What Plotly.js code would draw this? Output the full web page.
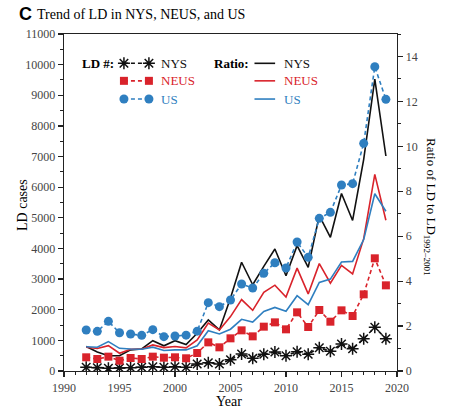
<!DOCTYPE html>
<html>
<head>
<meta charset="utf-8">
<script src="https://cdn.plot.ly/plotly-3.0.1.min.js"></script>
<style>html,body{margin:0;padding:0;background:#fff;}#chart{width:450px;height:418px;}</style>
</head>
<body>
<div id="chart"></div>
<script>
// ---- data ----
const years = [1992,1993,1994,1995,1996,1997,1998,1999,2000,2001,2002,2003,2004,2005,2006,2007,2008,2009,2010,2011,2012,2013,2014,2015,2016,2017,2018,2019];

const nysCases  = [120,108,87,98,108,120,141,120,141,125,228,272,228,370,555,413,544,620,500,631,544,761,642,881,729,1055,1425,1055];
const neusCases = [447,392,468,337,424,392,468,435,447,415,587,935,773,1066,1327,1131,1447,1588,1360,1915,1436,1991,1610,1980,1795,2502,3678,2796];
const usCases   = [1338,1295,1620,1250,1207,1164,1350,1120,1142,1170,1300,2230,2100,2317,2840,2709,3188,3535,3362,4210,3710,4983,5178,6070,6114,7430,9932,8868];

const nysRatio  = [1.09,0.85,0.68,0.68,0.94,0.98,1.35,1.12,1.35,1.18,1.68,2.27,1.83,3.25,4.84,3.84,4.66,5.43,4.24,5.58,4.61,6.92,5.95,7.90,6.70,9.42,12.99,9.57];
const neusRatio = [1.06,1.00,1.13,0.79,0.97,0.97,1.16,1.04,1.09,1.03,1.38,2.13,1.83,2.42,3.18,2.70,3.50,3.82,3.29,4.58,3.43,4.78,3.91,4.70,4.32,5.89,8.75,6.71];
const usRatio   = [1.08,1.06,1.31,1.01,0.98,0.97,1.06,0.91,0.94,0.94,1.12,1.79,1.65,1.86,2.30,2.18,2.65,2.83,2.66,3.35,2.95,3.94,4.09,4.85,4.88,5.85,7.89,7.11];

const seriesNames = ['NYS','NEUS','US'];
const xTickVals = [1990,1995,2000,2005,2010,2015,2020];
const leftTickVals = [0,1000,2000,3000,4000,5000,6000,7000,8000,9000,10000,11000];
const leftTickText = ['0','1000','2000','3000','4000','5000','6000','7000','8000','9000','10000','11000'];
const rightTickVals = [0,2,4,6,8,10,12,14];

// ---- styles ----
const BLACK = '#111111', RED = '#d9232b', BLUE = '#2f7fc0';
const SERIF = 'Liberation Serif, Times New Roman, serif';
const colors = [BLACK, RED, BLUE];

const traces = [];
// ratio lines (right axis -> 'y')
[nysRatio, neusRatio, usRatio].forEach((r, i) => {
  traces.push({x: years, y: r, xaxis: 'x', yaxis: 'y', mode: 'lines', name: seriesNames[i] + ' ratio',
    line: {color: colors[i], width: 1.6}, showlegend: false, hoverinfo: 'skip'});
});
// LD case counts (left axis -> 'y2')
const markerDefs = [
  {symbol: 'asterisk-open', size: 10, color: BLACK, line: {color: BLACK, width: 1.5}},
  {symbol: 'square', size: 8, color: RED, line: {width: 0}},
  {symbol: 'circle', size: 9, color: BLUE, line: {width: 0}}
];
[nysCases, neusCases, usCases].forEach((c, i) => {
  traces.push({x: years, y: c, xaxis: 'x', yaxis: 'y2', mode: 'lines+markers', name: seriesNames[i] + ' LD #',
    line: {color: colors[i], width: 1.6, dash: '4px,3px'}, marker: markerDefs[i], showlegend: false, hoverinfo: 'skip'});
});

// custom legend keys on a hidden unit axis pair
const rowY = [0.913, 0.861, 0.807];
const keyX = [0.180, 0.255];
const lineKeyX = [0.572, 0.634];
seriesNames.forEach((n, i) => {
  traces.push({x: keyX, y: [rowY[i], rowY[i]], xaxis: 'x3', yaxis: 'y3', mode: 'lines+markers',
    line: {color: colors[i], width: 1.6, dash: '4px,3px'}, marker: markerDefs[i], showlegend: false, hoverinfo: 'skip'});
  traces.push({x: lineKeyX, y: [rowY[i], rowY[i]], xaxis: 'x3', yaxis: 'y3', mode: 'lines',
    line: {color: colors[i], width: 1.6}, showlegend: false, hoverinfo: 'skip'});
});

function pxX(px) { return (px - 64) / 333; }
function pxY(py) { return (371 - py) / 337; }
const annotations = [];
annotations.push({text: '<b>C</b>', x: pxX(17), y: pxY(14), xref: 'paper', yref: 'paper', xanchor: 'left', yanchor: 'middle',
  showarrow: false, font: {family: 'Liberation Sans, Arial, sans-serif', size: 18, color: '#000'}});
annotations.push({text: 'Trend of LD in NYS, NEUS, and US', x: pxX(35), y: pxY(15), xref: 'paper', yref: 'paper', xanchor: 'left', yanchor: 'middle',
  showarrow: false, font: {family: SERIF, size: 14, color: '#000'}});
annotations.push({text: '<b>LD #:</b>', x: 0.155, y: rowY[0], xref: 'paper', yref: 'paper', xanchor: 'right', yanchor: 'middle',
  showarrow: false, font: {family: SERIF, size: 13, color: '#000'}});
annotations.push({text: '<b>Ratio:</b>', x: 0.562, y: rowY[0], xref: 'paper', yref: 'paper', xanchor: 'right', yanchor: 'middle',
  showarrow: false, font: {family: SERIF, size: 13, color: '#000'}});
seriesNames.forEach((n, i) => {
  annotations.push({text: n, x: 0.285, y: rowY[i], xref: 'paper', yref: 'paper', xanchor: 'left', yanchor: 'middle',
    showarrow: false, font: {family: SERIF, size: 13, color: colors[i]}});
  annotations.push({text: n, x: 0.655, y: rowY[i], xref: 'paper', yref: 'paper', xanchor: 'left', yanchor: 'middle',
    showarrow: false, font: {family: SERIF, size: 13, color: colors[i]}});
});
annotations.push({text: 'Ratio of LD to LD<sub>1992\u20132001</sub>', x: pxX(431), y: pxY(207), xref: 'paper', yref: 'paper',
  xanchor: 'center', yanchor: 'middle', textangle: 90, showarrow: false, font: {family: SERIF, size: 13, color: '#000'}});
annotations.push({text: 'LD cases', x: pxX(22), y: pxY(205), xref: 'paper', yref: 'paper',
  xanchor: 'center', yanchor: 'middle', textangle: -90, showarrow: false, font: {family: SERIF, size: 14, color: '#000'}});
annotations.push({text: 'Year', x: pxX(229), y: pxY(401), xref: 'paper', yref: 'paper',
  xanchor: 'center', yanchor: 'middle', showarrow: false, font: {family: SERIF, size: 14, color: '#000'}});

const axisCommon = {
  showgrid: false, zeroline: false, showline: true, linecolor: '#222', linewidth: 1.4,
  ticks: 'outside', ticklen: 5, tickwidth: 1.2, tickcolor: '#222',
  tickfont: {family: SERIF, size: 12, color: '#444'}
};

const layout = {
  width: 450, height: 418,
  margin: {l: 64, r: 53, t: 34, b: 47, pad: 0},
  paper_bgcolor: '#fff', plot_bgcolor: '#fff',
  showlegend: false,
  font: {family: SERIF, color: '#000'},
  xaxis: Object.assign({}, axisCommon, {
    range: [1990, 2020], tickmode: 'array', tickvals: xTickVals, mirror: true, automargin: false,
    minor: {dtick: 1, tick0: 1990, ticks: 'outside', ticklen: 3, tickcolor: '#222', tickwidth: 1}
  }),
  yaxis: Object.assign({}, axisCommon, {
    range: [0, 15], side: 'right', tickmode: 'array', tickvals: rightTickVals, automargin: false,
    minor: {dtick: 1, tick0: 0, ticks: 'outside', ticklen: 3, tickcolor: '#222', tickwidth: 1}
  }),
  yaxis2: Object.assign({}, axisCommon, {
    range: [0, 11000], side: 'left', overlaying: 'y', tickmode: 'array', tickvals: leftTickVals, ticktext: leftTickText, automargin: false,
    minor: {dtick: 500, tick0: 0, ticks: 'outside', ticklen: 3, tickcolor: '#222', tickwidth: 1}
  }),
  xaxis3: {range: [0, 1], overlaying: 'x', anchor: 'y3', visible: false, fixedrange: true},
  yaxis3: {range: [0, 1], overlaying: 'y', anchor: 'x3', visible: false, fixedrange: true},
  annotations: annotations
};

Plotly.newPlot('chart', traces, layout, {staticPlot: true, displayModeBar: false});
</script>
</body>
</html>
